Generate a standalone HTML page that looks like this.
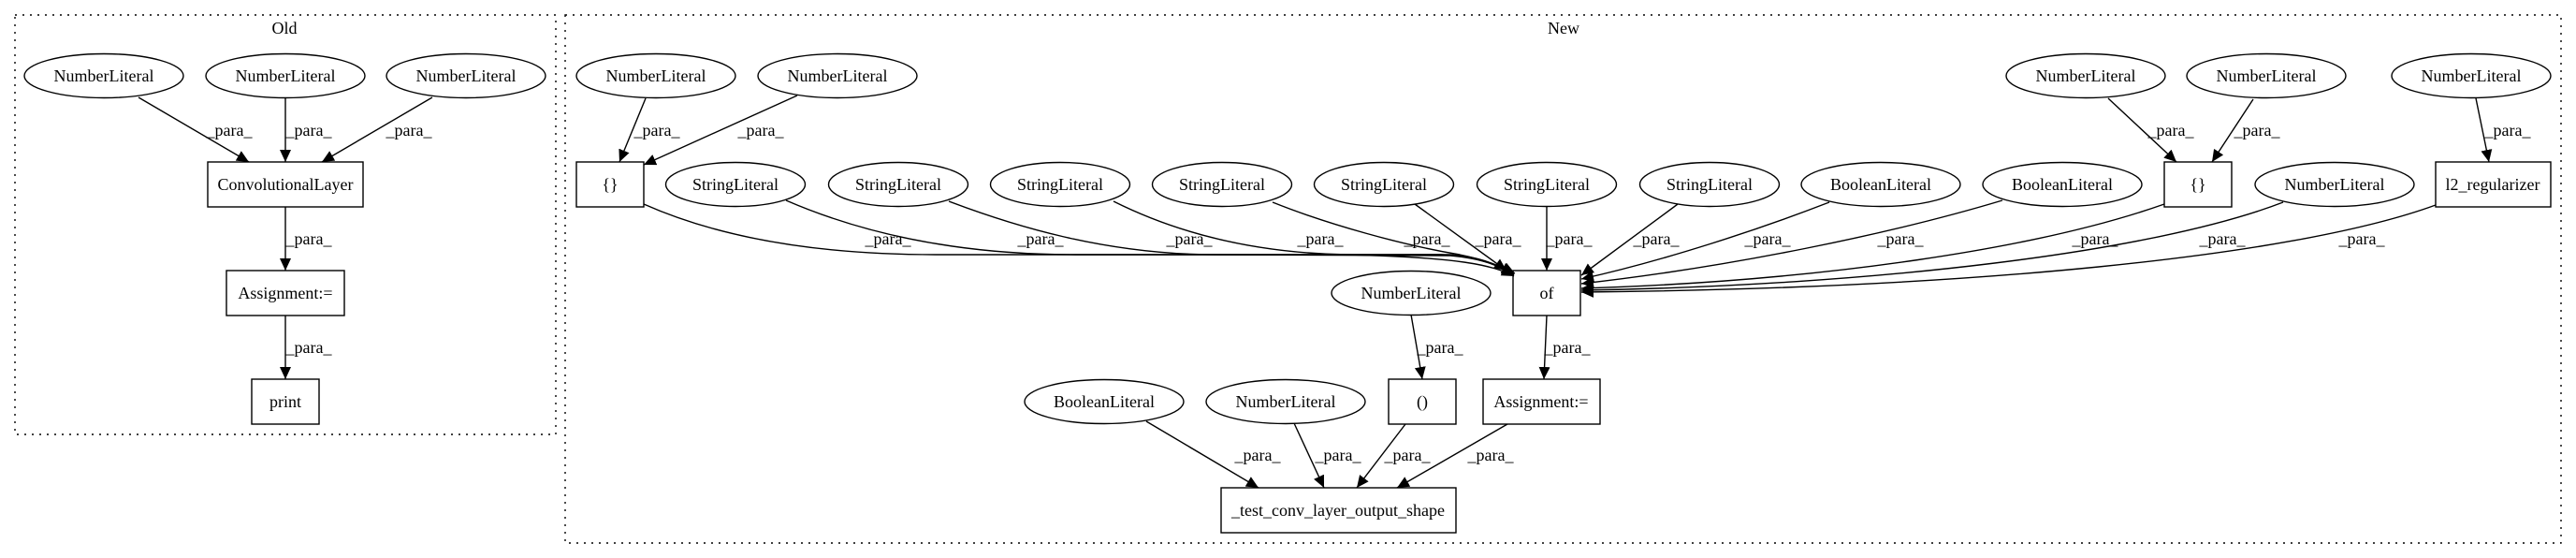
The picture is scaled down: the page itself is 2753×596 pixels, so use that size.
<!DOCTYPE html>
<html><head><meta charset="utf-8"><style>
html,body{margin:0;padding:0;background:#fff;}
svg{display:block;}
text{font-family:"Liberation Serif","Times New Roman",serif;font-size:18px;fill:#000;}
</style></head><body>
<svg width="2753" height="596" viewBox="0 0 2753 596" xmlns="http://www.w3.org/2000/svg">
<defs>
<marker id="a" markerUnits="userSpaceOnUse" markerWidth="14" markerHeight="12" refX="13" refY="6" orient="auto">
<path d="M0,0 L13,6 L0,12 Z" fill="#000"/>
</marker>
</defs>
<g fill="none" stroke="#000" stroke-width="1.4" stroke-dasharray="2,6">
<rect x="16" y="16" width="578" height="448"/>
<rect x="604" y="16" width="2133" height="564"/>
</g>
<text x="304" y="36" text-anchor="middle">Old</text>
<text x="1671" y="36" text-anchor="middle">New</text>

<g fill="#fff" stroke="#000" stroke-width="1.4">
<!-- Old -->
<ellipse cx="111" cy="81" rx="85" ry="23.5"/>
<ellipse cx="305" cy="81" rx="85" ry="23.5"/>
<ellipse cx="498" cy="81" rx="85" ry="23.5"/>
<rect x="222" y="173" width="166" height="48"/>
<rect x="242" y="289" width="126" height="48"/>
<rect x="269" y="405" width="72" height="48"/>
<!-- New top -->
<ellipse cx="701" cy="81" rx="85" ry="23.5"/>
<ellipse cx="895" cy="81" rx="85" ry="23.5"/>
<ellipse cx="2229" cy="81" rx="85" ry="23.5"/>
<ellipse cx="2422" cy="81" rx="85" ry="23.5"/>
<ellipse cx="2641" cy="81" rx="85" ry="23.5"/>
<!-- row 2 -->
<rect x="616" y="173" width="72" height="48"/>
<ellipse cx="786" cy="197" rx="74.5" ry="23.5"/>
<ellipse cx="960" cy="197" rx="74.5" ry="23.5"/>
<ellipse cx="1133" cy="197" rx="74.5" ry="23.5"/>
<ellipse cx="1306" cy="197" rx="74.5" ry="23.5"/>
<ellipse cx="1479" cy="197" rx="74.5" ry="23.5"/>
<ellipse cx="1653" cy="197" rx="74.5" ry="23.5"/>
<ellipse cx="1827" cy="197" rx="74.5" ry="23.5"/>
<ellipse cx="2010" cy="197" rx="85" ry="23.5"/>
<ellipse cx="2204" cy="197" rx="85" ry="23.5"/>
<rect x="2313" y="173" width="72" height="48"/>
<ellipse cx="2495" cy="197" rx="85" ry="23.5"/>
<rect x="2603" y="173" width="123" height="48"/>
<!-- row 3 -->
<ellipse cx="1508" cy="313" rx="85" ry="23.5"/>
<rect x="1617" y="289" width="72" height="48"/>
<!-- row 4 -->
<ellipse cx="1180" cy="429" rx="85" ry="23.5"/>
<ellipse cx="1374" cy="429" rx="85" ry="23.5"/>
<rect x="1484" y="405" width="72" height="48"/>
<rect x="1585" y="405" width="125" height="48"/>
<!-- row 5 -->
<rect x="1305" y="521" width="251" height="48"/>
</g>

<g text-anchor="middle">
<text x="111" y="87">NumberLiteral</text>
<text x="305" y="87">NumberLiteral</text>
<text x="498" y="87">NumberLiteral</text>
<text x="305" y="203">ConvolutionalLayer</text>
<text x="305" y="319">Assignment:=</text>
<text x="305" y="435">print</text>
<text x="701" y="87">NumberLiteral</text>
<text x="895" y="87">NumberLiteral</text>
<text x="2229" y="87">NumberLiteral</text>
<text x="2422" y="87">NumberLiteral</text>
<text x="2641" y="87">NumberLiteral</text>
<text x="652" y="203">{}</text>
<text x="786" y="203">StringLiteral</text>
<text x="960" y="203">StringLiteral</text>
<text x="1133" y="203">StringLiteral</text>
<text x="1306" y="203">StringLiteral</text>
<text x="1479" y="203">StringLiteral</text>
<text x="1653" y="203">StringLiteral</text>
<text x="1827" y="203">StringLiteral</text>
<text x="2010" y="203">BooleanLiteral</text>
<text x="2204" y="203">BooleanLiteral</text>
<text x="2349" y="203">{}</text>
<text x="2495" y="203">NumberLiteral</text>
<text x="2664" y="203">l2_regularizer</text>
<text x="1508" y="319">NumberLiteral</text>
<text x="1653" y="319">of</text>
<text x="1180" y="435">BooleanLiteral</text>
<text x="1374" y="435">NumberLiteral</text>
<text x="1520" y="435">()</text>
<text x="1647" y="435">Assignment:=</text>
<text x="1430" y="551">_test_conv_layer_output_shape</text>
</g>

<g fill="none" stroke="#000" stroke-width="1.4" marker-end="url(#a)">
<!-- Old -->
<path d="M148,104 L266,173"/>
<path d="M305,105 L305,173"/>
<path d="M462,104 L344,173"/>
<path d="M305,221 L305,289"/>
<path d="M305,337 L305,405"/>
<!-- New top -->
<path d="M690,105 L662,173"/>
<path d="M852,102 L688,176"/>
<path d="M2253,105 L2326,173"/>
<path d="M2408,106 L2364,173"/>
<path d="M2646,105 L2660,173"/>
<!-- into of from left -->
<path d="M688,218 C760,250 860,272 1000,272 L1540,272 C1580,274 1600,283 1618,292"/>
<path d="M840,214 C900,240 1000,272 1150,272 L1550,272 C1585,275 1600,283 1618,293"/>
<path d="M1014,215 C1080,240 1180,272 1300,272 L1550,273 C1585,276 1602,284 1618,294"/>
<path d="M1190,215 C1240,240 1320,270 1440,272 C1560,275 1595,283 1618,295"/>
<path d="M1360,216 C1420,240 1500,262 1560,272 C1590,278 1605,285 1619,292"/>
<path d="M1512,218 L1610,289"/>
<path d="M1653,221 L1653,289"/>
<!-- into of from right -->
<path d="M1793,218 L1690,294"/>
<path d="M1955,216 C1880,245 1780,278 1690,298"/>
<path d="M2140,214 C2020,250 1850,285 1690,303"/>
<path d="M2313,218 C2180,265 1950,300 1690,308"/>
<path d="M2440,216 C2300,270 2000,305 1690,310"/>
<path d="M2603,219 C2450,275 2100,308 1690,312"/>
<!-- lower -->
<path d="M1508,336 L1520,405"/>
<path d="M1653,337 L1650,405"/>
<path d="M1225,450 L1345,521"/>
<path d="M1383,452 L1415,521"/>
<path d="M1502,453 L1450,521"/>
<path d="M1611,453 L1493,521"/>
</g>

<g text-anchor="middle">
<text x="245" y="145">_para_</text>
<text x="330" y="145">_para_</text>
<text x="437" y="145">_para_</text>
<text x="330" y="261">_para_</text>
<text x="330" y="377">_para_</text>
<text x="702" y="145">_para_</text>
<text x="813" y="145">_para_</text>
<text x="2320" y="145">_para_</text>
<text x="2412" y="145">_para_</text>
<text x="2680" y="145">_para_</text>
<text x="949" y="261">_para_</text>
<text x="1112" y="261">_para_</text>
<text x="1271" y="261">_para_</text>
<text x="1411" y="261">_para_</text>
<text x="1525" y="261">_para_</text>
<text x="1601" y="261">_para_</text>
<text x="1677" y="261">_para_</text>
<text x="1770" y="261">_para_</text>
<text x="1889" y="261">_para_</text>
<text x="2031" y="261">_para_</text>
<text x="2239" y="261">_para_</text>
<text x="2375" y="261">_para_</text>
<text x="2524" y="261">_para_</text>
<text x="1539" y="377">_para_</text>
<text x="1675" y="377">_para_</text>
<text x="1344" y="492">_para_</text>
<text x="1430" y="492">_para_</text>
<text x="1504" y="492">_para_</text>
<text x="1593" y="492">_para_</text>
</g>
</svg>
</body></html>
